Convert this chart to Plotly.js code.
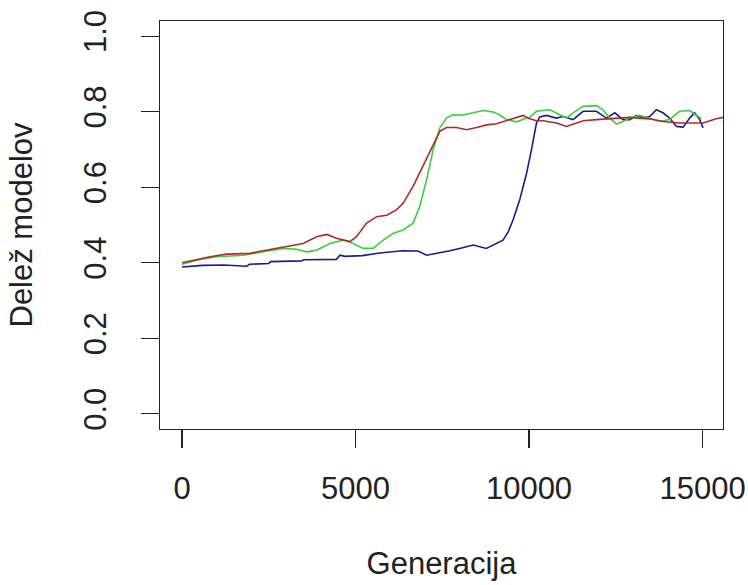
<!DOCTYPE html>
<html>
<head>
<meta charset="utf-8">
<script src="https://cdn.plot.ly/plotly-3.0.1.min.js"></script>
<style>html,body{margin:0;padding:0;background:#fff;}#chart{width:748px;height:585px;}</style>
</head>
<body>
<div id="chart"></div>
<script>
// Blue series
const blueX = [0,600,1200,1860,1950,2500,2550,3450,3500,4450,4550,4700,5200,5700,6350,6800,7050,7430,7720,8000,8390,8770,9060,9250,9400,9540,9730,9930,10070,10215,10310,10500,10790,10980,11270,11560,11940,12230,12470,12710,12900,13100,13290,13480,13670,13860,14050,14250,14440,14630,14770,14920,15015];
const blueY = [0.389,0.393,0.394,0.391,0.396,0.398,0.403,0.405,0.408,0.409,0.420,0.417,0.419,0.426,0.432,0.431,0.420,0.426,0.432,0.438,0.447,0.438,0.451,0.460,0.482,0.513,0.566,0.637,0.699,0.770,0.786,0.790,0.783,0.787,0.779,0.801,0.801,0.783,0.797,0.779,0.779,0.790,0.783,0.787,0.805,0.797,0.783,0.761,0.759,0.783,0.797,0.779,0.757];
// Green series
const greenX = [0,520,1000,1770,2340,2920,3300,3590,3880,4260,4650,4930,5220,5510,5800,6090,6375,6660,6850,7050,7240,7430,7620,7810,8100,8390,8680,8970,9160,9350,9640,9930,10022,10215,10600,10890,11080,11270,11560,11940,12130,12330,12520,12710,12900,13190,13480,13770,14050,14340,14630,14820,14970];
const greenY = [0.396,0.409,0.416,0.420,0.429,0.438,0.436,0.429,0.433,0.451,0.460,0.451,0.438,0.438,0.460,0.478,0.487,0.505,0.549,0.620,0.700,0.757,0.783,0.792,0.791,0.797,0.803,0.799,0.791,0.779,0.773,0.783,0.785,0.801,0.805,0.792,0.783,0.797,0.814,0.816,0.805,0.783,0.767,0.774,0.783,0.790,0.783,0.774,0.779,0.801,0.803,0.792,0.781];
// Red series
const redX = [0,330,810,1290,1960,2340,2730,3110,3490,3880,4170,4450,4840,5030,5320,5610,5900,6180,6375,6660,6950,7240,7430,7620,7910,8200,8490,8780,9060,9350,9640,9830,10022,10215,10406,10791,11078,11270,11558,11943,12519,12902,13478,13862,14342,15014,15399,15590];
const redY = [0.400,0.407,0.416,0.423,0.425,0.432,0.438,0.445,0.451,0.469,0.475,0.465,0.456,0.469,0.505,0.522,0.526,0.540,0.558,0.602,0.655,0.712,0.748,0.758,0.758,0.752,0.758,0.765,0.768,0.776,0.785,0.790,0.781,0.776,0.776,0.770,0.761,0.767,0.776,0.779,0.783,0.785,0.781,0.774,0.770,0.770,0.781,0.785];
// Tick labels
const xTickVals = [0,5000,10000,15000];
const xTickText = ['0','5000','10000','15000'];
const yTickVals = [0,0.2,0.4,0.6,0.8,1.0];
const yTickText = ['0.0','0.2','0.4','0.6','0.8','1.0'];

const FONT = 'Liberation Sans, Arial, sans-serif';
const traces = [
  {x: blueX, y: blueY, mode: 'lines', line: {color: '#1c1c8a', width: 1.6}, hoverinfo: 'skip'},
  {x: greenX, y: greenY, mode: 'lines', line: {color: '#3ccc3c', width: 1.6}, hoverinfo: 'skip'},
  {x: redX, y: redY, mode: 'lines', line: {color: '#b02a2a', width: 1.6}, hoverinfo: 'skip'}
];
const axisCommon = {
  showgrid: false, zeroline: false, showline: true, mirror: true,
  linecolor: '#222', linewidth: 1.2, ticks: 'outside', ticklen: 18,
  tickwidth: 1.2, tickcolor: '#222', tickmode: 'array',
  tickfont: {family: FONT, size: 31, color: '#222'}
};
const layout = {
  width: 748, height: 585,
  margin: {l: 160, r: 25, t: 21, b: 156, pad: 0},
  paper_bgcolor: '#fff', plot_bgcolor: '#fff',
  showlegend: false,
  xaxis: Object.assign({}, axisCommon, {
    range: [-634, 15590], tickvals: xTickVals, ticktext: xTickText,
    ticklabelstandoff: 14,
    title: {text: 'Generacija', font: {family: FONT, size: 31, color: '#222'}, standoff: 46}
  }),
  yaxis: Object.assign({}, axisCommon, {
    range: [-0.04, 1.04], tickvals: yTickVals, ticktext: yTickText,
    tickangle: -90, ticklabelstandoff: 22,
    title: {text: 'Delež modelov', font: {family: FONT, size: 31, color: '#222'}, standoff: 36}
  })
};
Plotly.newPlot('chart', traces, layout, {staticPlot: true, displayModeBar: false});
</script>
</body>
</html>
